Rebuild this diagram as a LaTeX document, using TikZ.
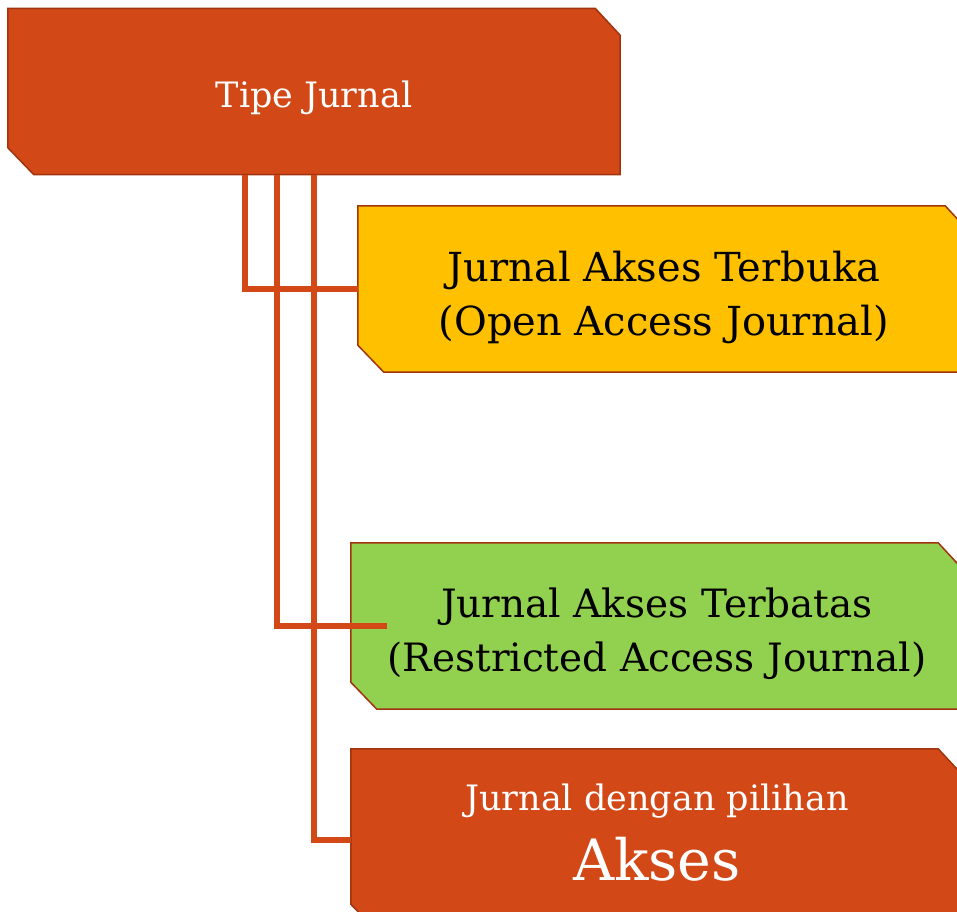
\documentclass[tikz,border=0pt]{standalone}
\usepackage{fontspec}
\setmainfont{DejaVu Serif}
\usetikzlibrary{backgrounds}
\definecolor{rust}{RGB}{210,72,22}
\definecolor{rustdark}{RGB}{160,52,14}
\definecolor{amber}{RGB}{255,192,0}
\definecolor{leaf}{RGB}{146,208,80}
\tikzset{
	tipebox/.style={inner sep=0pt, minimum width=612pt, minimum height=166pt},
	tipetext/.style={inner sep=0pt, align=center},
	boxline/.style={draw=rustdark, line width=1.5pt},
	conn/.style={draw=rust, line width=6pt},
}

\begin{document}
\begin{tikzpicture}[x=1pt,y=-1pt]
	\useasboundingbox (0,0) rectangle (957,911);
	\clip (0,0) rectangle (957,911);
	% boxes
	\node[tipebox] (tipe) at (314,91.5) {};
	\node[tipebox] (terbuka) at (664,289) {};
	\node[tipebox] (terbatas) at (657,626) {};
	\node[tipebox, minimum height=182pt] (pilihan) at (657,840) {};
	% texts
	\node[tipetext, text=white, font=\fontsize{35}{40}\selectfont] (tipe-t) at ([yshift=-6pt]tipe) {Tipe Jurnal};
	\node[tipetext, font=\fontsize{40}{54}\selectfont] (terbuka-t) at ([yshift=-8pt]terbuka) {Jurnal Akses Terbuka\\(Open Access Journal)};
	\node[tipetext, font=\fontsize{39}{54}\selectfont] (terbatas-t) at ([yshift=-8pt]terbatas) {Jurnal Akses Terbatas\\(Restricted Access Journal)};
	\node[tipetext, text=white, font=\fontsize{35}{70}\selectfont] (pilihan-t) at ([yshift=7pt]pilihan)
		{Jurnal dengan pilihan\\{\fontsize{57}{70}\selectfont Akses}};
	% cut corners behind the text
	\begin{scope}[on background layer]
		\foreach \n/\c in {tipe/rust,terbuka/amber,terbatas/leaf,pilihan/rust}
			\filldraw[boxline, fill=\c] (\n.north west) -- ([xshift=-25pt]\n.north east)
				-- ([yshift=-27pt]\n.north east) -- (\n.south east)
				-- ([xshift=26pt]\n.south west) -- ([yshift=27pt]\n.south west) -- cycle;
	\end{scope}
	% connectors
	\coordinate (stub) at ([xshift=36pt]terbatas.west);
	\draw[conn] ([xshift=-69pt]tipe.south) |- (terbuka.west);
	\draw[conn] ([xshift=-37pt]tipe.south) |- (stub);
	\draw[conn] (tipe.south) |- (pilihan.west);
\end{tikzpicture}
\end{document}
